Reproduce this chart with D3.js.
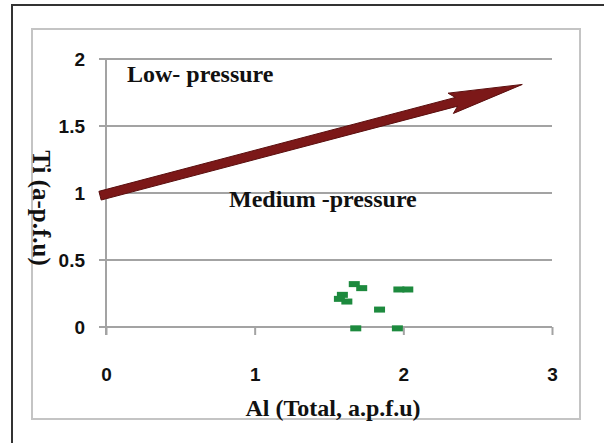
<!DOCTYPE html>
<html>
<head>
<meta charset="utf-8">
<script src="https://cdn.jsdelivr.net/npm/d3@7"></script>
<style>
  body { margin: 0; background: #fff; }
  svg { display: block; }
</style>
</head>
<body>
<div id="chart"></div>
<script>
// Daten
const xTicks = [0, 1, 2, 3];
const yTicks = [0, 0.5, 1, 1.5, 2];
const tickLabelsY = ["0", "0.5", "1", "1.5", "2"];

// Messpunkte (Al total, Ti)
const alWerte = [1.67, 1.72, 1.97, 2.03, 1.59, 1.57, 1.62, 1.84, 1.68, 1.96];
const tiWerte = [0.32, 0.29, 0.28, 0.28, 0.24, 0.21, 0.19, 0.13, -0.01, -0.01];

// Pfeil (Grenze Low / Medium pressure)
const pfeilStart = [-0.04, 0.98];
const pfeilEnde = [2.80, 1.81];

const width = 604, height = 443;

const svg = d3.select("#chart").append("svg")
  .attr("width", width)
  .attr("height", height);

// äußerer Rahmen (nur links und oben sichtbar)
svg.append("path")
  .attr("d", "M12,443 L12,5 L604,5")
  .attr("fill", "none")
  .attr("stroke", "#333")
  .attr("stroke-width", 2);

// innerer Diagrammrahmen
svg.append("rect")
  .attr("x", 32).attr("y", 29)
  .attr("width", 548).attr("height", 390)
  .attr("fill", "#fff")
  .attr("stroke", "#c4c4c4")
  .attr("stroke-width", 2);

const x = d3.scaleLinear().domain([0, 3]).range([106, 552]);
const y = d3.scaleLinear().domain([0, 2]).range([327, 59]);

// Gitterlinien (horizontal)
svg.append("g")
  .selectAll("line")
  .data(yTicks)
  .enter()
  .append("line")
  .attr("x1", x(0) - 7)
  .attr("x2", x(3))
  .attr("y1", d => y(d))
  .attr("y2", d => y(d))
  .attr("stroke", "#a3a3a3")
  .attr("stroke-width", 2);

// vertikale Achse
svg.append("line")
  .attr("x1", x(0)).attr("x2", x(0))
  .attr("y1", y(2)).attr("y2", y(0) + 8)
  .attr("stroke", "#a3a3a3")
  .attr("stroke-width", 2);

// x-Achse mit Ticks nach unten
const xAxis = svg.append("g")
  .attr("transform", `translate(0,${y(0)})`)
  .call(d3.axisBottom(x).tickValues(xTicks).tickSize(8).tickPadding(33).tickFormat(d3.format("d")));
xAxis.select(".domain").remove();
xAxis.selectAll(".tick line").attr("stroke", "#a3a3a3").attr("stroke-width", 2);
xAxis.selectAll("text")
  .attr("fill", "#111")
  .style("font-family", "'Liberation Sans', Arial, sans-serif")
  .style("font-weight", "bold")
  .style("font-size", "19px");

// y-Achse Beschriftung
const yAxis = svg.append("g")
  .attr("transform", `translate(${x(0)},0)`)
  .call(d3.axisLeft(y).tickValues(yTicks).tickSize(0).tickPadding(21)
    .tickFormat((d, i) => tickLabelsY[i]));
yAxis.select(".domain").remove();
yAxis.selectAll("text")
  .attr("fill", "#111")
  .style("font-family", "'Liberation Sans', Arial, sans-serif")
  .style("font-weight", "bold")
  .style("font-size", "19px");

// Pfeil als Polygon aus Start- und Endpunkt berechnen
const p0 = [x(pfeilStart[0]), y(pfeilStart[1])];
const p1 = [x(pfeilEnde[0]), y(pfeilEnde[1])];
const dx = p1[0] - p0[0], dy = p1[1] - p0[1];
const len = Math.hypot(dx, dy);
const ux = dx / len, uy = dy / len;   // Richtung
const nx = -uy, ny = ux;              // Normale
const schaft = 4.5, kopfLaenge = 74, kopfBreite = 10.5;
const pt = (s, t) => [p0[0] + ux * s + nx * t, p0[1] + uy * s + ny * t];
const pfeilPunkte = [
  pt(0, -schaft),
  pt(len - kopfLaenge + 6, -schaft),
  pt(len - kopfLaenge, -kopfBreite),
  pt(len, 0),
  pt(len - kopfLaenge, kopfBreite),
  pt(len - kopfLaenge + 6, schaft),
  pt(0, schaft)
];
svg.append("path")
  .attr("d", d3.line()(pfeilPunkte) + "Z")
  .attr("fill", "#7c1818")
  .attr("stroke", "#5a0e0e")
  .attr("stroke-width", 1)
  .attr("stroke-linejoin", "round");

// Messpunkte als kleine grüne Striche
svg.append("g")
  .selectAll("rect")
  .data(alWerte.map((a, i) => ({ al: a, ti: tiWerte[i] })))
  .enter()
  .append("rect")
  .attr("x", d => x(d.al) - 5.5)
  .attr("y", d => y(d.ti) - 3)
  .attr("width", 11)
  .attr("height", 6)
  .attr("fill", "#1d8a3e");

// Textbeschriftungen
const serif = "'Liberation Serif', 'Times New Roman', serif";

svg.append("text")
  .attr("x", 127).attr("y", 82)
  .text("Low- pressure")
  .style("font-family", serif).style("font-weight", "bold").style("font-size", "24px")
  .attr("fill", "#111");

svg.append("text")
  .attr("x", 229).attr("y", 207)
  .text("Medium -pressure")
  .style("font-family", serif).style("font-weight", "bold").style("font-size", "24px")
  .attr("fill", "#111");

svg.append("text")
  .attr("x", (x(0) + x(3)) / 2 + 4).attr("y", 416)
  .attr("text-anchor", "middle")
  .text("Al (Total, a.p.f.u)")
  .style("font-family", serif).style("font-weight", "bold").style("font-size", "24px")
  .attr("fill", "#111");

svg.append("text")
  .attr("transform", "translate(33,208) rotate(90)")
  .attr("text-anchor", "middle")
  .text("Ti (a-p.f.u)")
  .style("font-family", serif).style("font-weight", "bold").style("font-size", "25px")
  .attr("fill", "#111");
</script>
</body>
</html>
